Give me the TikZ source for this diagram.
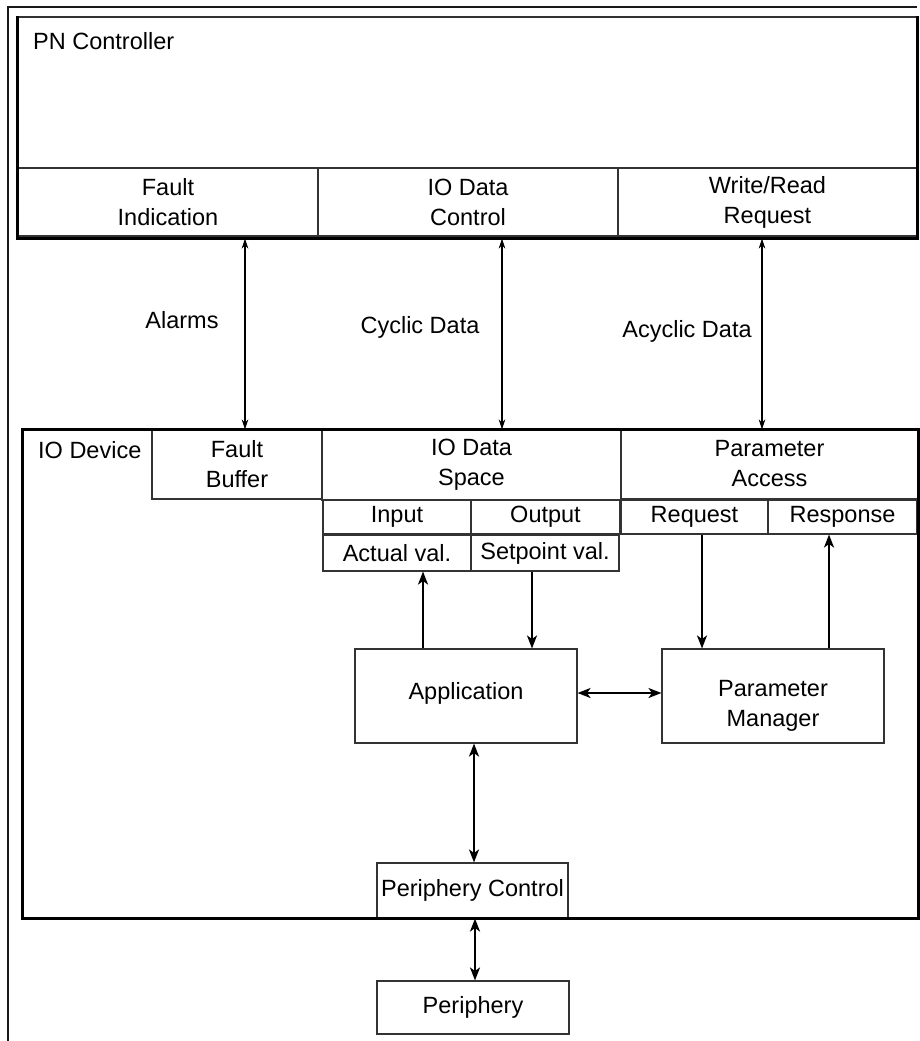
\documentclass[tikz,border=0pt]{standalone}
\usepackage{fontspec}
\setmainfont{Liberation Sans}
\usetikzlibrary{arrows.meta,calc}
\begin{document}
\begin{tikzpicture}[x=1pt,y=-1pt,
  txt/.style={font=\fontsize{23.5}{30}\selectfont, inner sep=0pt, text=black},
  cell/.style 2 args={txt, draw=black!80, line width=1.1pt, align=center,
    minimum width=#1, minimum height=#2},
  heavy/.style={draw=black, line width=2.8pt},
  frameline/.style={draw=black!90, line width=1.8pt},
  thinarr/.style={{Stealth[length=10pt,width=6.5pt,inset=3pt]}-{Stealth[length=10pt,width=6.5pt,inset=3pt]}, line width=1.1pt},
  arr/.style={-{Stealth[length=13pt,width=10pt,inset=3.5pt]}, line width=2pt},
  dblarr/.style={{Stealth[length=13pt,width=10pt,inset=3.5pt]}-{Stealth[length=13pt,width=10pt,inset=3.5pt]}, line width=2pt}
]
\useasboundingbox (0,0) rectangle (920,1041);

% outer frame
\draw[frameline] (8,1041) -- (8,7) -- (917,7);

% PN Controller with its three function cells
\node[cell={899}{221}] (pn) at (467.5,127.5) {};
\node[cell={300}{68}] (fi) at (168,202) {Fault\\Indication};
\node[cell={300}{68}, minimum height=68] (idc) at (468,202) {IO Data\\Control};
\node[cell={299}{68}] (wrr) at (767.5,202) {Write/Read\\Request};
\draw[heavy] (pn.north west) -- (pn.south west) -- (pn.south east) -- (pn.north east);
\node[txt, anchor=base west] (pnl) at (33,50) {PN Controller};

% IO Device
\node[cell={895}{488}] (iodev) at (470.5,674) {};
\node[txt, anchor=base west] (iodl) at (38,458) {IO Device};
\node[cell={170}{70}] (fb) at (237,464) {Fault\\Buffer};
\node[cell={299}{70}] (ids) at (471.5,465) {IO Data\\Space};
\node[cell={297}{70}] (pa) at (769.5,464) {Parameter\\Access};
\node[cell={148}{34}] (inp) at (397,517) {Input};
\node[cell={149}{34}] (outp) at (545.5,517) {Output};
\node[cell={148}{36}] (act) at (397,553) {Actual val.};
\node[cell={148}{36}] (setp) at (545,553) {Setpoint val.};
\node[cell={147}{34}] (req) at (694.5,517) {Request};
\node[cell={149}{34}] (resp) at (842.5,517) {Response};
\node[cell={222}{94}] (app) at (466,696) {};
\node[txt] (appt) at ($(app.center)+(0,-3)$) {Application};
\node[cell={222}{94}] (pm) at (773,696) {};
\node[txt, align=center] (pmt) at ($(pm.center)+(0,10)$) {Parameter\\Manager};
\node[cell={191}{55}] (pc) at (472.5,890.5) {Periphery Control};
\node[cell={192}{53}] (per) at (473,1007.5) {Periphery};
\draw[heavy] (iodev.north west) rectangle (iodev.south east);

% communication channels between controller and device
\coordinate (xa) at (245,0);
\coordinate (xb) at (502,0);
\coordinate (xc) at (762,0);
\draw[thinarr] (pn.south -| xa) -- (iodev.north -| xa);
\draw[thinarr] (pn.south -| xb) -- (iodev.north -| xb);
\draw[thinarr] (pn.south -| xc) -- (iodev.north -| xc);
\node[txt, anchor=base] (alarms) at (182,328) {Alarms};
\node[txt, anchor=base] (cyc) at (420,333) {Cyclic Data};
\node[txt, anchor=base] (acyc) at (687,337) {Acyclic Data};

% internal data flow
\coordinate (xd) at (423,0);
\coordinate (xe) at (532,0);
\coordinate (xf) at (702,0);
\coordinate (xg) at (829,0);
\coordinate (xh) at (474,0);
\coordinate (xi) at (475,0);
\draw[arr] (app.north -| xd) -- (act.south -| xd);
\draw[arr] (setp.south -| xe) -- (app.north -| xe);
\draw[arr] (req.south -| xf) -- (pm.north -| xf);
\draw[arr] (pm.north -| xg) -- (resp.south -| xg);
\draw[dblarr] ($(app.east)+(0,-3)$) -- ($(pm.west)+(0,-3)$);
\draw[dblarr] (app.south -| xh) -- (pc.north -| xh);
\draw[dblarr] (pc.south -| xi) -- (per.north -| xi);
\end{tikzpicture}
\end{document}
